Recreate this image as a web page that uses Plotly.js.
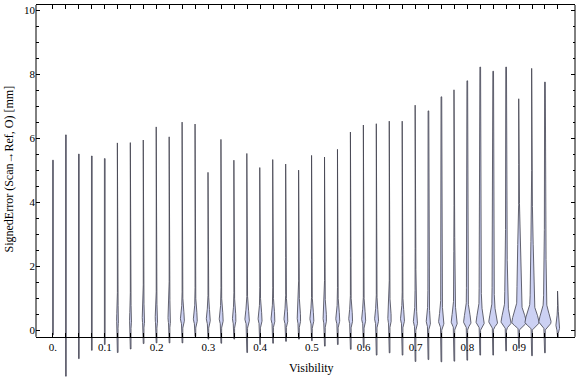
<!DOCTYPE html>
<html><head><meta charset="utf-8">
<script src="https://cdn.plot.ly/plotly-3.0.1.min.js"></script>
<style>html,body{margin:0;padding:0;background:#fff}</style>
</head><body><div id="chart" style="width:576px;height:377px"></div>
<script>
// ---- data ----
const visibility = [0, 0.025, 0.05, 0.075, 0.1, 0.125, 0.15, 0.175, 0.2, 0.225, 0.25, 0.275, 0.3, 0.325, 0.35, 0.375, 0.4, 0.425, 0.45, 0.475, 0.5, 0.525, 0.55, 0.575, 0.6, 0.625, 0.65, 0.675, 0.7, 0.725, 0.75, 0.775, 0.8, 0.825, 0.85, 0.875, 0.9, 0.925, 0.95, 0.975];
const maxError = [5.31, 6.10, 5.50, 5.44, 5.36, 5.85, 5.86, 5.94, 6.35, 6.04, 6.50, 6.44, 4.93, 5.96, 5.31, 5.52, 5.08, 5.33, 5.19, 5.00, 5.46, 5.41, 5.65, 6.19, 6.41, 6.45, 6.53, 6.53, 7.03, 6.85, 7.29, 7.51, 7.79, 8.22, 8.09, 8.22, 7.23, 8.18, 7.75, 1.22];
const minError = [-0.15, -1.44, -0.89, -0.63, -0.45, -0.70, -0.59, -0.42, -0.40, -0.40, -0.40, -0.20, -0.28, -0.41, -0.28, -0.70, -0.45, -0.41, -0.35, -0.28, -0.33, -0.50, -0.45, -0.60, -0.55, -0.78, -0.71, -0.78, -0.98, -0.92, -0.99, -0.97, -0.94, -0.78, -0.78, -0.65, -0.57, -0.80, -0.71, -0.21];
const modeError = [0.32, 0.32, 0.32, 0.32, 0.32, 0.32, 0.32, 0.32, 0.32, 0.32, 0.32, 0.32, 0.32, 0.32, 0.32, 0.32, 0.32, 0.32, 0.32, 0.32, 0.32, 0.32, 0.32, 0.32, 0.32, 0.32, 0.32, 0.32, 0.24, 0.24, 0.24, 0.24, 0.24, 0.24, 0.24, 0.24, 0.24, 0.24, 0.24, 0.12];
// relative density at the mode and in the upper body of each distribution
const peakDensity = [1.2, 1.2, 1.2, 1.6, 1.6, 2, 2, 2.5, 2.5, 2.5, 3.5, 3.5, 3.5, 3.5, 3, 4, 3.5, 3.5, 3.5, 3, 3.5, 3, 3.5, 3.5, 3.5, 3.5, 3, 3.5, 3.5, 3.5, 4.5, 5, 6, 6.5, 7, 8, 11, 11, 10, 4];
const upperDensity = [0.4, 0.4, 0.4, 0.4, 0.4, 0.4, 0.4, 0.4, 0.4, 0.7, 0.7, 0.7, 0.7, 0.7, 0.7, 0.7, 0.7, 0.7, 0.7, 0.7, 0.7, 0.7, 0.7, 0.7, 0.7, 0.7, 0.7, 0.7, 0.9, 1.1, 1.3, 1.5, 1.7, 2.2, 2.2, 2.7, 4.2, 3.7, 2.7, 0];
const xLabelText = ["0.", "0.1", "0.2", "0.3", "0.4", "0.5", "0.6", "0.7", "0.8", "0.9"];
const yTickValues = [0, 2, 4, 6, 8, 10];
const yTickText = ["0", "2", "4", "6", "8", "10"];
const yMinorValues = [0.5, 1, 1.5, 2.5, 3, 3.5, 4.5, 5, 5.5, 6.5, 7, 7.5, 8.5, 9, 9.5];

// ---- layout geometry ----
const W = 576, H = 377;
const margin = {l: 36, r: 1, t: 5, b: 0};
const xRange = [-0.0328, 1.008];
const yRange = [-1.465, 10.16];
const frameBottom = -0.21;
const plotW = W - margin.l - margin.r;
const unitsPerPx = (xRange[1] - xRange[0]) / plotW;
const FONT = 'Liberation Serif, Times New Roman, serif';

function halfWidthPx(y, i) {
  const m = modeError[i];
  const P = peakDensity[i] / 2, B = upperDensity[i] / 2;
  let core, body;
  if (y < m) {
    const g = Math.exp(-0.5 * Math.pow((y - m) / 0.1, 2));
    core = P * g;
    body = B * Math.exp(-0.5 * Math.pow(1.0 / 1.5, 2)) * g;
  } else {
    core = P * Math.exp(-0.5 * Math.pow((y - m) / 0.26, 2));
    body = B * Math.exp(-0.5 * Math.pow((y - m - 1.0) / 1.5, 2));
  }
  return Math.max(core + body, 0.35);
}

const traces = visibility.map((v, i) => {
  const ys = [];
  const lo = minError[i], hi = maxError[i];
  const n = Math.ceil((hi - lo) / 0.015);
  for (let k = 0; k <= n; k++) ys.push(lo + (hi - lo) * k / n);
  const xsL = ys.map(y => v - halfWidthPx(y, i) * unitsPerPx);
  const xsR = ys.map(y => v + halfWidthPx(y, i) * unitsPerPx);
  const x = xsL.concat(xsR.slice().reverse());
  const y = ys.concat(ys.slice().reverse());
  x.push(x[0]); y.push(y[0]);
  return {
    type: 'scatter', mode: 'lines', x: x, y: y,
    fill: 'toself', fillcolor: 'rgb(204,209,243)',
    line: {color: 'rgba(65,65,78,0.8)', width: 1},
    hoverinfo: 'skip', showlegend: false
  };
});
// helper trace so overlay axes exist
traces.push({type: 'scatter', x: [null], y: [null], xaxis: 'x2', yaxis: 'y2', showlegend: false, hoverinfo: 'skip'});

const xTickText = visibility.map((v, i) => (i % 4 === 0 ? xLabelText[i / 4] : ''));
const pos = (frameBottom - yRange[0]) / (yRange[1] - yRange[0]);

const layout = {
  width: W, height: H, margin: margin,
  paper_bgcolor: '#fff', plot_bgcolor: 'rgba(0,0,0,0)',
  showlegend: false, hovermode: false,
  font: {family: FONT, size: 11, color: '#000'},
  xaxis: {
    range: xRange, anchor: 'free', position: pos,
    showgrid: false, zeroline: false, showline: true, linecolor: '#000', linewidth: 1,
    ticks: 'inside', ticklen: 4, tickcolor: '#000', tickwidth: 1,
    tickmode: 'array', tickvals: visibility, ticktext: xTickText,
    tickfont: {family: FONT, size: 11, color: '#000'}
  },
  xaxis2: {
    range: xRange, overlaying: 'x', side: 'top', anchor: 'y',
    showgrid: false, zeroline: false, showline: true, linecolor: '#000', linewidth: 1,
    ticks: 'inside', ticklen: 4, tickcolor: '#000', tickwidth: 1,
    tickmode: 'array', tickvals: visibility, showticklabels: false
  },
  yaxis: {
    range: yRange, showgrid: false, zeroline: false, showline: false,
    ticks: 'inside', ticklen: 4, tickcolor: '#000', tickwidth: 1,
    tickmode: 'array', tickvals: yTickValues, ticktext: yTickText,
    tickfont: {family: FONT, size: 11, color: '#000'},
    minor: {tickmode: 'array', tickvals: yMinorValues, ticks: 'inside', ticklen: 2.5, tickcolor: '#000', showgrid: false}
  },
  yaxis2: {
    range: yRange, overlaying: 'y', side: 'right', anchor: 'x',
    showgrid: false, zeroline: false, showline: false,
    ticks: 'inside', ticklen: 4, tickcolor: '#000', tickwidth: 1,
    tickmode: 'array', tickvals: yTickValues, showticklabels: false,
    minor: {tickmode: 'array', tickvals: yMinorValues, ticks: 'inside', ticklen: 2.5, tickcolor: '#000', showgrid: false}
  },
  shapes: [
    {type: 'line', xref: 'paper', yref: 'y', x0: 0, x1: 0, y0: frameBottom, y1: yRange[1], line: {color: '#000', width: 1}},
    {type: 'line', xref: 'paper', yref: 'y', x0: 1, x1: 1, y0: frameBottom, y1: yRange[1], line: {color: '#000', width: 1}}
  ],
  annotations: [
    {text: 'Visibility', xref: 'paper', yref: 'paper', x: (311 - margin.l) / plotW, y: (H - 368) / (H - margin.t),
     xanchor: 'center', yanchor: 'middle', showarrow: false, font: {family: FONT, size: 12, color: '#000'}},
    {text: 'SignedError (Scan→Ref, O) [mm]', xref: 'paper', yref: 'paper', x: (8.5 - margin.l) / plotW, y: (H - 169) / (H - margin.t),
     xanchor: 'center', yanchor: 'middle', textangle: -90, showarrow: false, font: {family: FONT, size: 12, color: '#000'}}
  ]
};

Plotly.newPlot('chart', traces, layout, {displayModeBar: false, staticPlot: true});
</script>
</body></html>
